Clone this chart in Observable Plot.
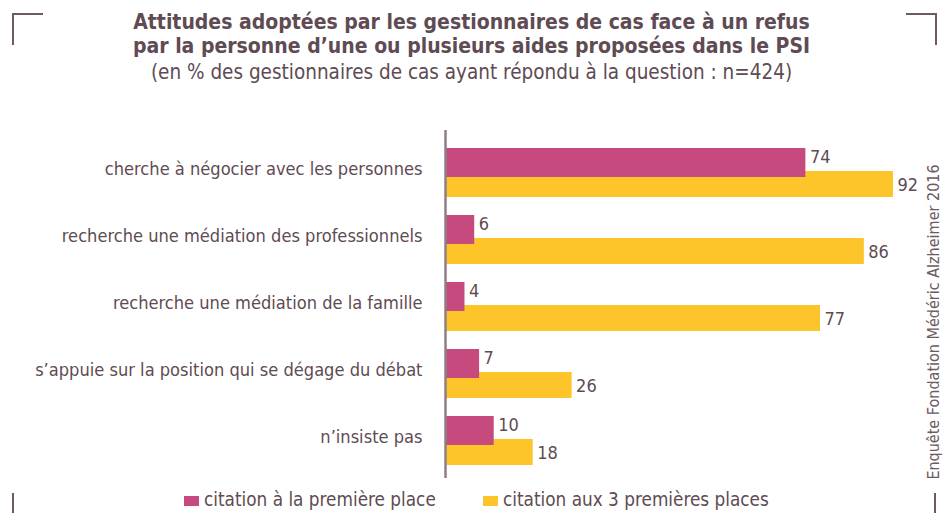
<!DOCTYPE html>
<html><head><meta charset="utf-8">
<script src="https://cdn.jsdelivr.net/npm/d3@7"></script>
<script src="https://cdn.jsdelivr.net/npm/@observablehq/plot@0.6"></script>
<style>
html,body{margin:0;padding:0;background:#fff;}
body{width:947px;height:513px;overflow:hidden;position:relative;font-family:"DejaVu Sans Condensed","DejaVu Sans",sans-serif;color:#5e4b53;}
#chart{position:absolute;left:0;top:0;}
.t{position:absolute;left:0;width:943px;text-align:center;white-space:nowrap;}
.title{font-weight:bold;font-size:21px;}
.sub{font-size:20.5px;}
.corner{position:absolute;background:#6e5a62;}
.legend{position:absolute;top:489px;font-size:18.8px;white-space:nowrap;display:flex;align-items:center;}
.sw{display:inline-block;width:15px;height:10px;margin-right:5px;margin-top:3px;}
.source{position:absolute;left:933px;top:322px;transform:translate(-50%,-50%) rotate(-90deg);font-size:16px;white-space:nowrap;color:#6e5a62;}
</style></head>
<body>
<div id="chart"></div>
<div class="t title" style="top:10px">Attitudes adoptées par les gestionnaires de cas face à un refus</div>
<div class="t title" style="top:34px">par la personne d’une ou plusieurs aides proposées dans le PSI</div>
<div class="t sub" style="top:60px">(en % des gestionnaires de cas ayant répondu à la question : n=424)</div>
<div class="corner" style="left:12px;top:13px;width:31px;height:2px"></div>
<div class="corner" style="left:12px;top:13px;width:2px;height:32px"></div>
<div class="corner" style="left:906px;top:13px;width:31px;height:2px"></div>
<div class="corner" style="left:935px;top:13px;width:2px;height:32px"></div>
<div class="corner" style="left:12px;top:493px;width:2px;height:20px"></div>
<div class="corner" style="left:934px;top:493px;width:2px;height:20px"></div>
<div class="source">Enquête Fondation Médéric Alzheimer 2016</div>
<div id="legend"></div>
<script>
const categories = [
  "cherche à négocier avec les personnes",
  "recherche une médiation des professionnels",
  "recherche une médiation de la famille",
  "s’appuie sur la position qui se dégage du débat",
  "n’insiste pas"
];
const firstPlace = [74, 6, 4, 7, 10];
const top3Places = [92, 86, 77, 26, 18];
const seriesNames = ["citation à la première place", "citation aux 3 premières places"];
const seriesColors = ["#c64a7e", "#fdc52a"];

const d1 = categories.map((c, i) => ({cat: c, value: firstPlace[i]}));
const d3p = categories.map((c, i) => ({cat: c, value: top3Places[i]}));
const txt = "#5e4b53";

const chart = Plot.plot({
  width: 947, height: 513,
  marginLeft: 445, marginRight: 15, marginTop: 130, marginBottom: 35,
  style: {fontFamily: '"DejaVu Sans Condensed","DejaVu Sans",sans-serif', background: "transparent"},
  x: {domain: [0, 100], axis: null},
  y: {domain: categories, axis: null, padding: 0, insetTop: 7, insetBottom: 2},
  marks: [
    Plot.barX(d3p, {x: "value", y: "cat", fill: seriesColors[1], insetTop: 32, insetBottom: 9}),
    Plot.barX(d1, {x: "value", y: "cat", fill: seriesColors[0], insetTop: 9, insetBottom: 29}),
    Plot.ruleX([0], {stroke: "#8e7f86", strokeWidth: 2.5}),
    Plot.text(d1, {x: "value", y: "cat", text: d => String(d.value), dx: 4, dy: -15.5, textAnchor: "start", fontSize: 18, fill: txt}),
    Plot.text(d3p, {x: "value", y: "cat", text: d => String(d.value), dx: 4, dy: 12.5, textAnchor: "start", fontSize: 18, fill: txt}),
    Plot.text(categories, {x: 0, y: d => d, text: d => d, dx: -23, dy: -4, textAnchor: "end", fontSize: 18.1, fill: txt})
  ]
});
document.getElementById("chart").appendChild(chart);

const lg = document.getElementById("legend");
const pos = [184, 483];
seriesNames.forEach((n, i) => {
  const el = document.createElement("div");
  el.className = "legend";
  el.style.left = pos[i] + "px";
  el.innerHTML = `<span class="sw" style="background:${seriesColors[i]}"></span><span>${n}</span>`;
  lg.appendChild(el);
});
</script>
</body></html>
